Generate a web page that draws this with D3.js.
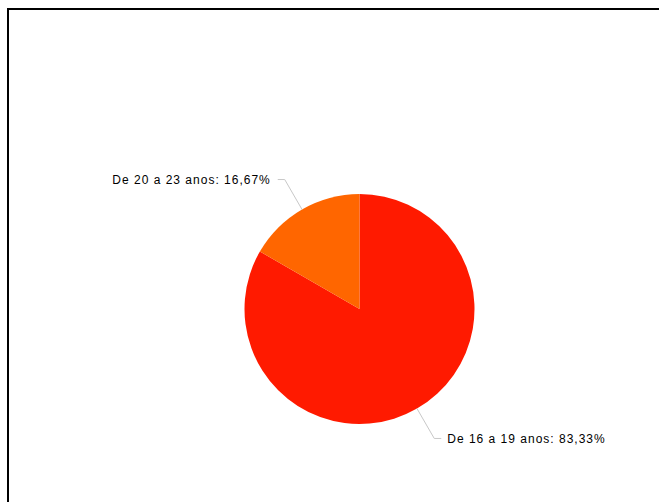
<!DOCTYPE html>
<html>
<head>
<meta charset="utf-8">
<script src="https://cdn.jsdelivr.net/npm/d3@7/dist/d3.min.js"></script>
<style>
  html, body { margin: 0; padding: 0; background: #fff; }
  svg { display: block; }
</style>
</head>
<body>
<svg id="chart" width="659" height="502"></svg>
<script>
// Age groups and their share of respondents (%)
const categories = ["De 16 a 19 anos", "De 20 a 23 anos"];
const values = [83.33, 16.67];
const labels = ["83,33%", "16,67%"];
const colors = ["#ff1a00", "#ff6600"];

const svg = d3.select("#chart");
const W = 659, H = 502;

// outer frame (runs off the right and bottom edges)
svg.append("rect")
  .attr("x", 8).attr("y", 9)
  .attr("width", W + 20).attr("height", H + 20)
  .attr("fill", "#fff")
  .attr("stroke", "#000")
  .attr("stroke-width", 2);

const cx = 359.5, cy = 309, r = 115;
const g = svg.append("g").attr("transform", `translate(${cx},${cy})`);

const pie = d3.pie().sort(null).value(d => d.value);
const data = pie(categories.map((c, i) => ({ cat: c, value: values[i], label: labels[i], color: colors[i] })));

const arc = d3.arc().innerRadius(0).outerRadius(r);

g.selectAll("path.slice")
  .data(data)
  .join("path")
  .attr("class", "slice")
  .attr("d", arc)
  .attr("fill", d => d.data.color);

// leader lines and labels
const inner = d3.arc().innerRadius(r).outerRadius(r);
const outer = d3.arc().innerRadius(r * 1.3).outerRadius(r * 1.3);

data.forEach(d => {
  const mid = (d.startAngle + d.endAngle) / 2;
  const p0 = inner.centroid(d);
  const p1 = outer.centroid(d);
  const right = Math.sin(mid) > 0;
  const p2 = [p1[0] + (right ? 7 : -7), p1[1]];
  g.append("polyline")
    .attr("points", [p0, p1, p2].map(p => p.join(",")).join(" "))
    .attr("fill", "none")
    .attr("stroke", "#c8c8c8")
    .attr("stroke-width", 1);
  g.append("text")
    .attr("x", p2[0] + (right ? 6 : -7))
    .attr("y", p2[1])
    .attr("dy", "0.35em")
    .attr("text-anchor", right ? "start" : "end")
    .attr("font-family", "Liberation Sans, Arial, sans-serif")
    .attr("font-size", 12)
    .attr("letter-spacing", 1)
    .attr("fill", "#000")
    .text(`${d.data.cat}: ${d.data.label}`);
});
</script>
</body>
</html>
